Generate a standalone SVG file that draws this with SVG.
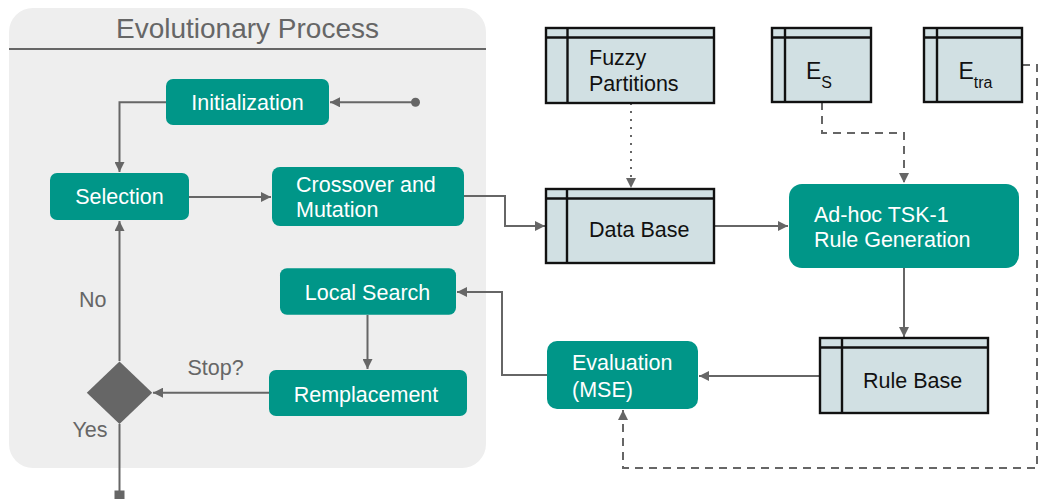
<svg xmlns="http://www.w3.org/2000/svg" width="1040" height="499" viewBox="0 0 1040 499">
  <style>
    text { font-family: "Liberation Sans", Arial, sans-serif; font-size: 21.5px; }
    .step rect { fill: #009688; }
    .step text { fill: #ffffff; }
    .store rect.body { fill: #d1e0e3; stroke: #111111; stroke-width: 2.4; }
    .store line { stroke: #111111; stroke-width: 2.4; }
    .store text { fill: #111111; }
    .label { fill: #666666; }
    .wire { fill: none; stroke: #666666; stroke-width: 2; }
    .dash { stroke-dasharray: 8 6; }
    .dot { stroke-dasharray: 2 6; }
  </style>
  <defs>
    <marker id="arrow" viewBox="0 0 10 10" refX="10" refY="5" markerWidth="10" markerHeight="10" markerUnits="userSpaceOnUse" orient="auto">
      <path d="M0,0 L10,5 L0,10 z" fill="#666666"/>
    </marker>
  </defs>

  <!-- Evolutionary process container -->
  <g id="evolutionary-process">
    <rect x="9" y="8" width="477" height="460" rx="24" fill="#eeeeee"/>
    <line x1="9" y1="49" x2="486" y2="49" stroke="#666666" stroke-width="2"/>
    <text x="247.5" y="37.5" text-anchor="middle" class="label" style="font-size:28px">Evolutionary Process</text>
  </g>

  <!-- Connectors -->
  <g id="connectors">
    <circle cx="415.5" cy="102.3" r="4.5" fill="#666666"/>
    <path class="wire" d="M415,102.3 H330" marker-end="url(#arrow)"/>
    <path class="wire" d="M166,102.3 H119.5 V172" marker-end="url(#arrow)"/>
    <path class="wire" d="M189,197 H271" marker-end="url(#arrow)"/>
    <path class="wire" d="M464,196 H505 V226 H545" marker-end="url(#arrow)"/>
    <path class="wire dot" d="M631,103 V188" marker-end="url(#arrow)"/>
    <path class="wire" d="M714,226 H788" marker-end="url(#arrow)"/>
    <path class="wire dash" d="M822,102 V133 H904 V183" marker-end="url(#arrow)"/>
    <path class="wire" d="M904,268 V337" marker-end="url(#arrow)"/>
    <path class="wire" d="M820,376 H699" marker-end="url(#arrow)"/>
    <path class="wire" d="M547,375 H502 V292 H457" marker-end="url(#arrow)"/>
    <path class="wire dash" d="M1022,65 H1037 V468 H623 V410" marker-end="url(#arrow)"/>
    <path class="wire" d="M367.5,315 V369" marker-end="url(#arrow)"/>
    <path class="wire" d="M269,392.7 H153" marker-end="url(#arrow)"/>
    <path class="wire" d="M119.5,361 V221" marker-end="url(#arrow)"/>
    <path class="wire" d="M119.5,424 V491"/>
    <rect x="114.5" y="490.5" width="10" height="10" fill="#666666"/>
    <text x="79" y="306.5" class="label">No</text>
    <text x="72.5" y="437" class="label">Yes</text>
    <text x="187.5" y="375" class="label">Stop?</text>
  </g>

  <!-- Decision -->
  <g id="stop-decision">
    <path d="M119.5,361.5 L152.2,392.7 L119.5,424 L86.8,392.7 z" fill="#666666"/>
  </g>

  <!-- Process steps -->
  <g id="initialization" class="step">
    <rect x="166" y="79" width="163" height="46" rx="7"/>
    <text x="247.5" y="110" text-anchor="middle">Initialization</text>
  </g>
  <g id="selection" class="step">
    <rect x="50" y="173" width="139" height="47" rx="7"/>
    <text x="119.5" y="204" text-anchor="middle">Selection</text>
  </g>
  <g id="crossover-mutation" class="step">
    <rect x="272" y="167" width="192" height="59" rx="8"/>
    <text x="296" y="191.5">Crossover and</text>
    <text x="296" y="216.7">Mutation</text>
  </g>
  <g id="local-search" class="step">
    <rect x="280" y="268.3" width="176" height="46.4" rx="7"/>
    <text x="367.5" y="300" text-anchor="middle">Local Search</text>
  </g>
  <g id="remplacement" class="step">
    <rect x="269" y="370" width="198" height="46" rx="7"/>
    <text x="366" y="401.5" text-anchor="middle">Remplacement</text>
  </g>
  <g id="rule-generation" class="step">
    <rect x="789" y="184" width="230" height="84" rx="13"/>
    <text x="814" y="222">Ad-hoc TSK-1</text>
    <text x="814" y="247">Rule Generation</text>
  </g>
  <g id="evaluation" class="step">
    <rect x="547" y="341" width="151" height="68" rx="10"/>
    <text x="572" y="370">Evaluation</text>
    <text x="572" y="396.5">(MSE)</text>
  </g>

  <!-- Data stores -->
  <g id="fuzzy-partitions" class="store">
    <rect class="body" x="546" y="28" width="168" height="75"/>
    <line x1="546" y1="37.5" x2="714" y2="37.5"/>
    <line x1="567.5" y1="28" x2="567.5" y2="103"/>
    <text x="589" y="65">Fuzzy</text>
    <text x="589" y="91">Partitions</text>
  </g>
  <g id="es" class="store">
    <rect class="body" x="772" y="28" width="99" height="74"/>
    <line x1="772" y1="37.5" x2="871" y2="37.5"/>
    <line x1="785" y1="28" x2="785" y2="102"/>
    <text x="806" y="78.5" style="font-size:23px">E<tspan dy="9.5" style="font-size:16px">S</tspan></text>
  </g>
  <g id="etra" class="store">
    <rect class="body" x="924" y="28" width="98" height="74"/>
    <line x1="924" y1="37.5" x2="1022" y2="37.5"/>
    <line x1="937" y1="28" x2="937" y2="102"/>
    <text x="958.5" y="78.5" style="font-size:23px">E<tspan dy="9.5" style="font-size:16px">tra</tspan></text>
  </g>
  <g id="data-base" class="store">
    <rect class="body" x="546" y="189" width="168" height="74"/>
    <line x1="546" y1="198.5" x2="714" y2="198.5"/>
    <line x1="567" y1="189" x2="567" y2="263"/>
    <text x="589" y="237">Data Base</text>
  </g>
  <g id="rule-base" class="store">
    <rect class="body" x="820" y="338" width="168" height="75"/>
    <line x1="820" y1="347.5" x2="988" y2="347.5"/>
    <line x1="842" y1="338" x2="842" y2="413"/>
    <text x="863" y="388">Rule Base</text>
  </g>
</svg>
